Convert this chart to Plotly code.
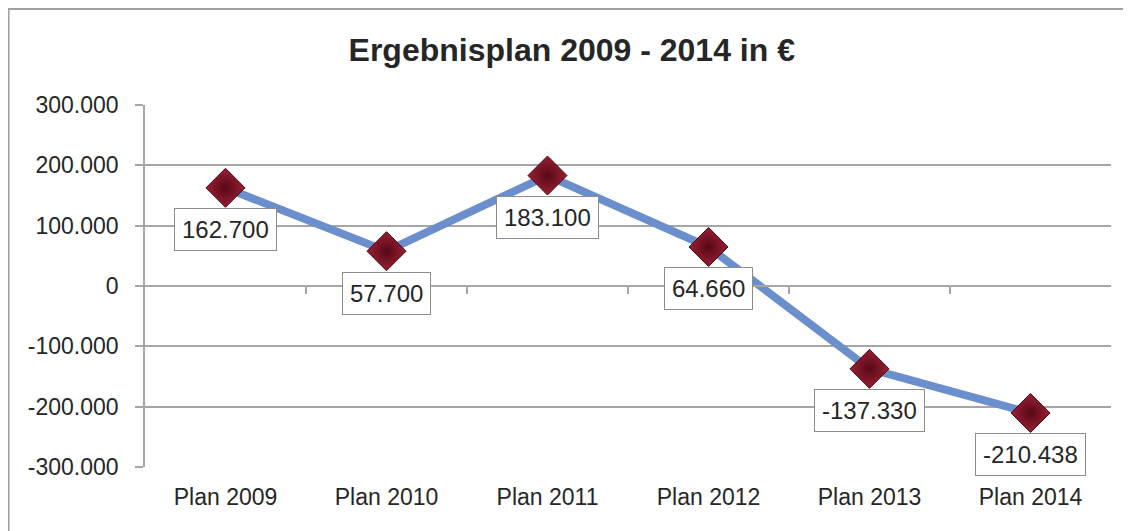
import plotly.graph_objects as go

categories = ["Plan 2009", "Plan 2010", "Plan 2011", "Plan 2012", "Plan 2013", "Plan 2014"]
values = [162700, 57700, 183100, 64660, -137330, -210438]
tick_vals = [300000, 200000, 100000, 0, -100000, -200000, -300000]
tick_text = ["300.000", "200.000", "100.000", "0", "-100.000", "-200.000", "-300.000"]
title_text = "Ergebnisplan 2009 - 2014 in €"

FONT = "Liberation Sans, Arial, sans-serif"
GRID = "#a6a6a6"
TXT = "#262626"

def fmt(v):
    return f"{v:,.0f}".replace(",", ".")

fig = go.Figure()
fig.add_trace(go.Scatter(
    x=categories, y=values, mode="lines+markers",
    line=dict(color="#6b8fcc", width=8),
    marker=dict(symbol="diamond", size=30, color="#9a2034",
                gradient=dict(type="radial", color="#560816"),
                line=dict(color="#4a0612", width=1)),
    hoverinfo="skip", showlegend=False,
))
# invisible trace for the secondary x axis (axis line at y=0)
fig.add_trace(go.Scatter(x=[0], y=[0], xaxis="x2", mode="markers",
                         marker=dict(opacity=0), showlegend=False, hoverinfo="skip"))

for c, v in zip(categories, values):
    fig.add_annotation(x=c, y=v, text=fmt(v), showarrow=False, yshift=-42,
                       font=dict(family=FONT, size=24, color=TXT),
                       bgcolor="white", bordercolor="#8c8c8c", borderwidth=1, borderpad=7)

fig.update_layout(
    width=1123, height=523,
    margin=dict(l=137, r=20, t=97, b=64),
    paper_bgcolor="white", plot_bgcolor="white",
    title=dict(text="<b>" + title_text + "</b>", x=0.502, xanchor="center", y=0.92, yanchor="middle",
               font=dict(family=FONT, size=32, color=TXT)),
    xaxis=dict(range=[-0.5, 5.5], showgrid=False, showline=False, ticks="",
               tickmode="array", tickvals=list(range(len(categories))), ticktext=categories,
               tickfont=dict(family=FONT, size=23, color=TXT), ticklabelstandoff=14, zeroline=False),
    xaxis2=dict(overlaying="x", anchor="free", position=0.5, range=[-0.5, 5.5],
                showline=True, linecolor=GRID, linewidth=1.5, ticks="outside", ticklen=7,
                tickcolor=GRID, tickwidth=1.5, tickmode="array",
                tickvals=[i + 0.5 for i in range(len(categories) - 1)],
                showticklabels=False, showgrid=False, zeroline=False),
    yaxis=dict(range=[-300000, 300000], tickmode="array", tickvals=tick_vals, ticktext=tick_text,
               showgrid=True, gridcolor=GRID, gridwidth=1.5, zeroline=False,
               showline=True, linecolor=GRID, linewidth=1.5,
               ticks="outside", ticklen=8, tickcolor=GRID, tickwidth=1.5, ticklabelstandoff=12,
               tickfont=dict(family=FONT, size=23, color=TXT)),
    shapes=[dict(type="rect", xref="paper", yref="paper", x0=-0.1415, x1=1.05, y0=-0.3, y1=1.266,
                 line=dict(color="#a0a0a0", width=2.5), fillcolor="rgba(0,0,0,0)", layer="below")],
)

fig.write_html("out.html")
